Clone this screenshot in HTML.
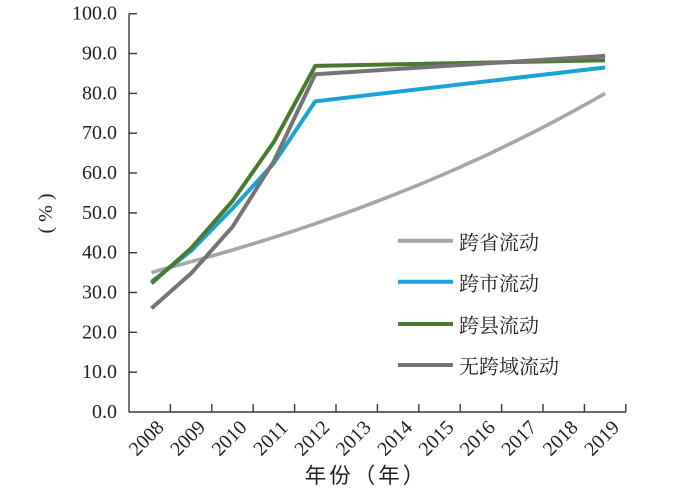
<!DOCTYPE html>
<html>
<head>
<meta charset="utf-8">
<style>
  html,body{margin:0;padding:0;background:#fff;}
  svg{display:block;}
  .tick{font-family:"Liberation Serif",serif;font-size:20px;fill:#231f20;}
  .leg{font-family:"Noto Serif CJK SC","Liberation Serif",serif;font-size:20px;fill:#231f20;}
  .title{font-family:"Liberation Sans","Noto Sans CJK SC",sans-serif;font-size:21.5px;fill:#231f20;letter-spacing:3px;}
</style>
</head>
<body>
<svg width="700" height="490" viewBox="0 0 700 490" xmlns="http://www.w3.org/2000/svg">
  <rect width="700" height="490" fill="#fff"/>
  <g stroke="#3a3637" stroke-width="1.4" fill="none">
    <line x1="129" y1="13.7" x2="129" y2="412"/>
    <line x1="129" y1="412" x2="626" y2="412"/>
    <line x1="129" y1="13.7" x2="137" y2="13.7"/>
    <line x1="129" y1="53.5" x2="137" y2="53.5"/>
    <line x1="129" y1="93.4" x2="137" y2="93.4"/>
    <line x1="129" y1="133.2" x2="137" y2="133.2"/>
    <line x1="129" y1="173.0" x2="137" y2="173.0"/>
    <line x1="129" y1="212.9" x2="137" y2="212.9"/>
    <line x1="129" y1="252.7" x2="137" y2="252.7"/>
    <line x1="129" y1="292.5" x2="137" y2="292.5"/>
    <line x1="129" y1="332.3" x2="137" y2="332.3"/>
    <line x1="129" y1="372.2" x2="137" y2="372.2"/>
    <line x1="170.4" y1="412" x2="170.4" y2="404"/>
    <line x1="211.8" y1="412" x2="211.8" y2="404"/>
    <line x1="253.2" y1="412" x2="253.2" y2="404"/>
    <line x1="294.6" y1="412" x2="294.6" y2="404"/>
    <line x1="336.0" y1="412" x2="336.0" y2="404"/>
    <line x1="377.4" y1="412" x2="377.4" y2="404"/>
    <line x1="418.8" y1="412" x2="418.8" y2="404"/>
    <line x1="460.2" y1="412" x2="460.2" y2="404"/>
    <line x1="501.6" y1="412" x2="501.6" y2="404"/>
    <line x1="543.0" y1="412" x2="543.0" y2="404"/>
    <line x1="584.4" y1="412" x2="584.4" y2="404"/>
    <line x1="625.8" y1="412" x2="625.8" y2="404"/>
  </g>
  <g class="tick" text-anchor="end" dominant-baseline="central">
    <text x="117" y="13.7">100.0</text>
    <text x="117" y="53.5">90.0</text>
    <text x="117" y="93.4">80.0</text>
    <text x="117" y="133.2">70.0</text>
    <text x="117" y="173.0">60.0</text>
    <text x="117" y="212.9">50.0</text>
    <text x="117" y="252.7">40.0</text>
    <text x="117" y="292.5">30.0</text>
    <text x="117" y="332.3">20.0</text>
    <text x="117" y="372.2">10.0</text>
    <text x="117" y="412">0.0</text>
  </g>
  <g class="tick" text-anchor="middle" dominant-baseline="central">
    <text transform="translate(146.7,438.5) rotate(-45)">2008</text>
    <text transform="translate(188.1,438.5) rotate(-45)">2009</text>
    <text transform="translate(229.5,438.5) rotate(-45)">2010</text>
    <text transform="translate(270.9,438.5) rotate(-45)">2011</text>
    <text transform="translate(312.3,438.5) rotate(-45)">2012</text>
    <text transform="translate(353.7,438.5) rotate(-45)">2013</text>
    <text transform="translate(395.1,438.5) rotate(-45)">2014</text>
    <text transform="translate(436.5,438.5) rotate(-45)">2015</text>
    <text transform="translate(477.9,438.5) rotate(-45)">2016</text>
    <text transform="translate(519.3,438.5) rotate(-45)">2017</text>
    <text transform="translate(560.7,438.5) rotate(-45)">2018</text>
    <text transform="translate(602.1,438.5) rotate(-45)">2019</text>
  </g>
  <text class="title" x="366" y="476" text-anchor="middle" dominant-baseline="central">年份（年）</text>
  <text transform="translate(46,213.5) rotate(-90)" text-anchor="middle" dominant-baseline="central" style="font-family:'Liberation Serif',serif;font-size:20px;fill:#231f20;">( % )</text>

  <g fill="none" stroke-width="4" stroke-linejoin="round" stroke-linecap="butt">
    <polyline id="lg" stroke="#a6a6a6" stroke-width="3.6" points="151.5,272.6 605.1,93.0"/>
    <polyline stroke="#19a3d6" points="151.5,281.8 191.1,250.8 232.5,208.5 273.9,163.1 315.3,101.3 605.1,67.5"/>
    <polyline stroke="#4a7a2f" points="151.5,283.4 191.1,248.3 232.5,201.0 273.9,141.9 315.3,65.9 605.1,60.3"/>
    <polyline stroke="#767374" points="151.5,308.4 191.1,273.4 232.5,226.8 273.9,161.1 315.3,74.2 605.1,55.9"/>
  </g>

  <g stroke-width="4">
    <line x1="398" y1="240.7" x2="453" y2="240.7" stroke="#a6a6a6"/>
    <line x1="398" y1="281.7" x2="453" y2="281.7" stroke="#19a3d6"/>
    <line x1="398" y1="324" x2="453" y2="324" stroke="#4a7a2f"/>
    <line x1="398" y1="365" x2="453" y2="365" stroke="#767374"/>
  </g>
  <g class="leg" dominant-baseline="central">
    <text x="459" y="241">跨省流动</text>
    <text x="459" y="282">跨市流动</text>
    <text x="459" y="324">跨县流动</text>
    <text x="459" y="365">无跨域流动</text>
  </g>
</svg>
<script>
(function(){
  var pl=document.getElementById('lg');
  var pts=[];
  for(var i=0;i<=44;i++){
    var t=i/4;
    var v=35.0*Math.pow(80.0/35.0,t/11);
    var x=149.7+41.4*t;
    if(i===0) x=151.5;
    var y=412-3.983*v;
    pts.push(x.toFixed(1)+','+y.toFixed(1));
  }
  pl.setAttribute('points',pts.join(' '));
})();
</script>
</body>
</html>
